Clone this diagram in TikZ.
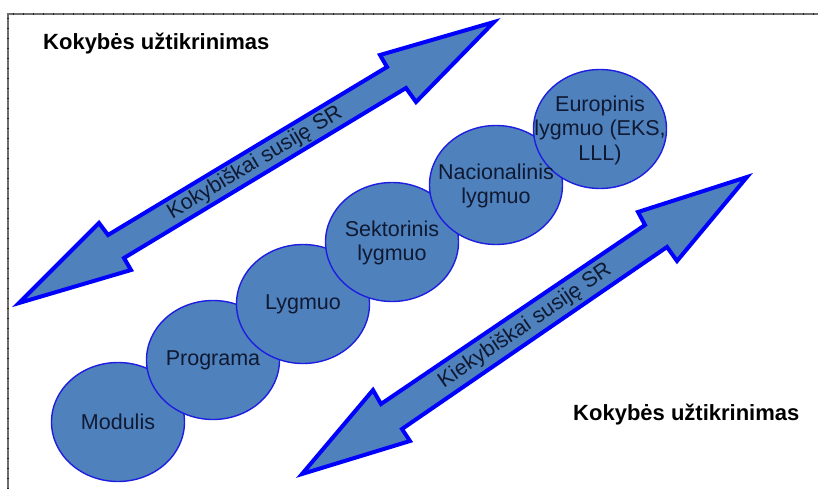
\documentclass[tikz,border=0pt]{standalone}
\usepackage{fontspec}
\setmainfont{Liberation Sans}
\usetikzlibrary{shapes.geometric}
\definecolor{fillblue}{RGB}{79,129,189}
\definecolor{edgeblue}{RGB}{0,0,255}
\definecolor{ellline}{RGB}{30,30,225}
\definecolor{txtnavy}{RGB}{15,25,50}
\definecolor{framegray}{RGB}{110,110,110}
\begin{document}
\begin{tikzpicture}[x=1pt,y=-1pt,
  lvl/.style={ellipse, draw=ellline, line width=1.4pt, fill=fillblue,
    minimum width=133pt, minimum height=119pt, inner sep=0pt},
  lvltext/.style={align=center, inner sep=0pt, text=txtnavy,
    font=\fontsize{21.5}{24.5}\selectfont},
  blockarrow/.style={fill=fillblue, draw=edgeblue, line width=4pt, line join=miter},
  arrowtext/.style={text=txtnavy, font=\fontsize{21.5}{24}\selectfont, inner sep=0pt},
  titletext/.style={font=\bfseries\fontsize{22}{26}\selectfont, text=black, inner sep=0pt}]
\useasboundingbox (0,0) rectangle (818,489);
% frame
\draw[framegray, line width=2pt] (8,489) -- (8,14) -- (818,14);
\draw[black!85, line width=2.6pt, dash pattern=on 0.8pt off 9.2pt] (8,489) -- (8,14) -- (818,14);
% titles
\node[titletext, anchor=base west] (t1) at (43,50) {Kokybės užtikrinimas};
\node[titletext, anchor=base west] (t2) at (573,420) {Kokybės užtikrinimas};
% upper double arrow
\draw[blockarrow] (19,303) -- (99,223) -- (108,235) -- (387,67) -- (380,55)
  -- (494,22) -- (416,102) -- (406,88) -- (124,258) -- (131,270) -- cycle;
\node[arrowtext, rotate=31] (a1) at (255,163) {Kokybiškai susiję SR};
% lower double arrow
\draw[blockarrow] (302,474) -- (373,390) -- (381,404) -- (645,225) -- (638,212)
  -- (747,177) -- (677,261) -- (667,247) -- (402,429) -- (410,441) -- cycle;
\node[arrowtext, rotate=34.3] (a2) at (525,326) {Kiekybiškai susiję SR};
% levels
\node[lvl] (m) at (118,422) {};
\node[lvl] (p) at (213,360) {};
\node[lvl] (l) at (303,304) {};
\node[lvl] (s) at (392,242) {};
\node[lvl] (n) at (496,185) {};
\node[lvl] (e) at (600,129) {};
\node[lvltext] (mt) at (m.center) {Modulis};
\node[lvltext] (pt) at (p.center) {Programa};
\node[lvltext] (lt) at (l.center) {Lygmuo};
\node[lvltext] (st) at ([yshift=-1pt]s.center) {Sektorinis\\lygmuo};
\node[lvltext] (nt) at ([yshift=-1pt]n.center) {Nacionalinis\\lygmuo};
\node[lvltext] (et) at ([yshift=-1pt]e.center) {Europinis\\lygmuo (EKS,\\LLL)};
\end{tikzpicture}
\end{document}
